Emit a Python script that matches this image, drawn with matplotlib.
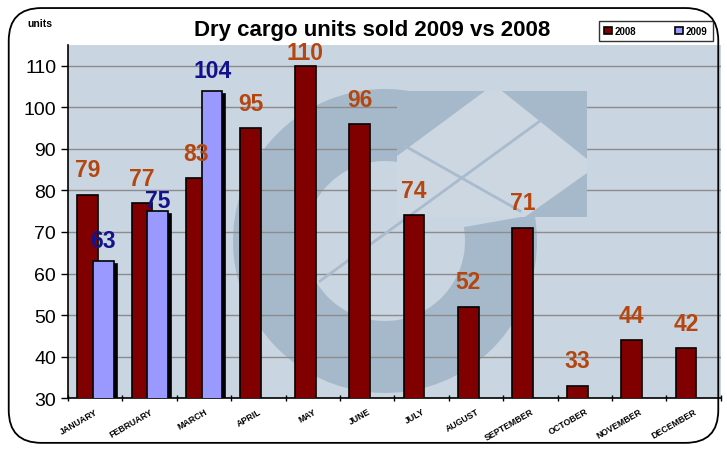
import numpy as np
import matplotlib
matplotlib.use("Agg")
import matplotlib.pyplot as plt
import matplotlib.patches as mpatches
import matplotlib.transforms as mtransforms

plt.rcParams['font.family'] = ['Liberation Sans', 'DejaVu Sans']

months = ['JANUARY', 'FEBRUARY', 'MARCH', 'APRIL', 'MAY', 'JUNE', 'JULY',
          'AUGUST', 'SEPTEMBER', 'OCTOBER', 'NOVEMBER', 'DECEMBER']
sales_2008 = [79, 77, 83, 95, 110, 96, 74, 52, 71, 33, 44, 42]
sales_2009 = [63, 75, 104]

c2008 = '#800000'
c2009 = '#9999FF'
lab2008 = '#B4460F'
lab2009 = '#12128C'

fig = plt.figure(figsize=(7.27, 4.52), dpi=100)
ax = fig.add_axes([0.0935, 0.117, 0.898, 0.781])
ax.set_facecolor('#C9D5E1')

# faint watermark logo behind the bars (ring + shield), in inches so it stays round
wm = '#A6B9CB'
inch = fig.dpi_scale_trans
ax.add_patch(mpatches.Wedge((3.85, 2.10), 1.52, 75, 370, width=0.72,
                            transform=inch, facecolor=wm, edgecolor='none',
                            zorder=0.5))
ax.add_patch(mpatches.Rectangle((3.97, 2.34), 1.90, 1.26, transform=inch,
                                facecolor='#CCD7E2', edgecolor='none',
                                zorder=0.55))
for tri in [[(3.97, 3.60), (4.85, 3.60), (3.97, 2.95)],
            [(5.02, 3.60), (5.87, 3.60), (5.87, 2.92)],
            [(5.87, 2.78), (5.87, 2.34), (5.25, 2.34)]]:
    ax.add_patch(mpatches.Polygon(tri, closed=True, transform=inch,
                                  facecolor=wm, edgecolor='none', zorder=0.6))
for seg in [[(4.05, 3.05), (5.2, 2.40)], [(5.4, 3.30), (3.2, 1.70)]]:
    ax.plot(*zip(*seg), transform=inch, color='#A9BBCC', lw=2, zorder=0.65)

x = np.arange(len(months))
x9 = np.arange(len(sales_2009))
w = 0.38

ax.yaxis.grid(True, color='#8C8C8C', lw=1)
ax.set_axisbelow(True)

b8 = ax.bar(x - 0.14, sales_2008, w, color=c2008, edgecolor='black',
            lw=1.2, zorder=3)
shadow = mtransforms.offset_copy(ax.transData, fig=fig, x=3, y=-3,
                                 units='dots')
ax.bar(x9 + 0.15, sales_2009, w, color='black', edgecolor='black',
       lw=1.2, zorder=2.9, transform=shadow)
b9 = ax.bar(x9 + 0.15, sales_2009, w, color=c2009, edgecolor='black',
            lw=1.2, zorder=3)

ymax = 115
for xi, v in zip(x - 0.14, sales_2008):
    ax.text(xi, min(v + 6, ymax - 1.9), str(v), ha='center', va='center',
            fontsize=16.5, fontweight='bold', color=lab2008, zorder=4)
lift_2009 = [5, 2.5, 5]  # Excel nudged the February label down
for xi, v, d in zip(x9 + 0.15, sales_2009, lift_2009):
    ax.text(xi, v + d, str(v), ha='center', va='center', fontsize=16.5,
            fontweight='bold', color=lab2009, zorder=4)

ax.set_xlim(-0.5, len(months) - 0.5)
ax.set_ylim(30, ymax)
ax.set_yticks(range(30, 111, 10))
ax.tick_params(axis='y', labelsize=14, length=5, width=1, direction='out')
ax.set_xticks(x)
ax.set_xticklabels(months, rotation=30, ha='right', rotation_mode='anchor',
                   fontsize=6.3, fontweight='bold')
ax.tick_params(axis='x', length=0, pad=6)
ax.set_xticks(np.arange(-0.5, len(months)), minor=True)
ax.tick_params(axis='x', which='minor', length=5, width=1, direction='inout')
for s in ['top', 'right']:
    ax.spines[s].set_visible(False)
for s in ['left', 'bottom']:
    ax.spines[s].set_linewidth(1.2)

fig.text(0.512, 0.932, 'Dry cargo units sold 2009 vs 2008', ha='center',
         va='center', fontsize=16, fontweight='bold')
fig.text(0.055, 0.947, 'units', ha='center', va='center', fontsize=7.5,
         fontweight='bold')

leg = fig.legend([b8, b9], ['2008', '2009'], ncol=2, loc='center',
                 bbox_to_anchor=(0.902, 0.929),
                 prop={'weight': 'bold', 'size': 7}, frameon=True,
                 fancybox=False, edgecolor='black', handlelength=0.8,
                 handleheight=0.8, columnspacing=4.0, handletextpad=0.3,
                 borderpad=0.55, borderaxespad=0)
leg.get_frame().set_linewidth(1)

border = mpatches.FancyBboxPatch((0.012, 0.018), 0.976, 0.962,
                                 boxstyle='round,pad=0,rounding_size=0.045',
                                 transform=fig.transFigure, fill=False,
                                 edgecolor='black', lw=1.3,
                                 mutation_aspect=727 / 452)
fig.patches.append(border)

fig.savefig('out.png', dpi=100)
